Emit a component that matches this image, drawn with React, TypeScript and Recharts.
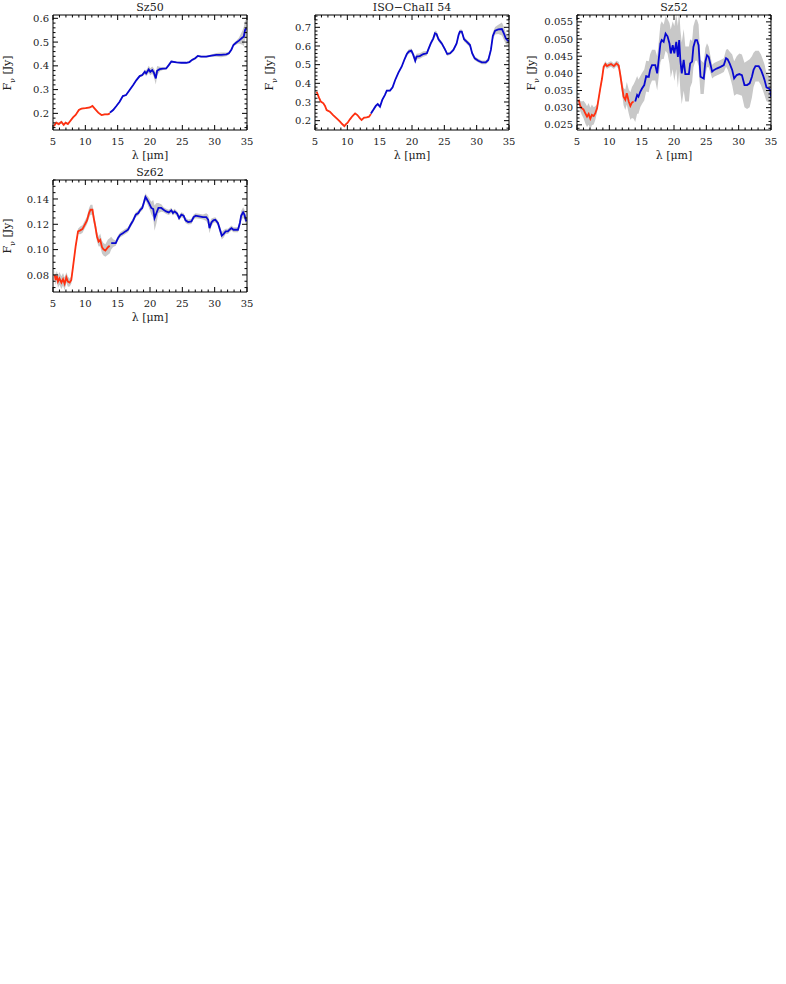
import { ComposedChart, Line, Area, XAxis, YAxis } from 'recharts'

// [wavelength (um), flux (Jy), half-width of grey band]
const SZ50_SL = [
  [5.15, 0.147, 0.006], [5.5, 0.161, 0.006], [5.9, 0.155, 0.006], [6.3, 0.164, 0.006],
  [6.65, 0.152, 0.006], [6.96, 0.161, 0.005], [7.3, 0.155, 0.004], [7.7, 0.169, 0.003],
  [8.1, 0.183, 0.003], [8.5, 0.193, 0.003], [9.0, 0.214, 0.003], [9.4, 0.22, 0.003],
  [10.05, 0.222, 0.003], [10.7, 0.225, 0.003], [11.1, 0.231, 0.003], [11.45, 0.22, 0.003],
  [12.0, 0.203, 0.003], [12.5, 0.193, 0.003], [13.0, 0.196, 0.003], [13.5, 0.196, 0.003],
  [13.8, 0.2, 0.004],
]
const SZ50_LL = [
  [13.8, 0.203, 0.005], [14.3, 0.214, 0.004], [14.8, 0.231, 0.003], [15.3, 0.249, 0.003],
  [15.8, 0.273, 0.003], [16.3, 0.277, 0.003], [16.85, 0.298, 0.003], [17.4, 0.319, 0.003],
  [17.9, 0.34, 0.004], [18.4, 0.357, 0.005], [18.8, 0.361, 0.006], [19.2, 0.375, 0.01],
  [19.4, 0.368, 0.012], [19.8, 0.385, 0.015], [20.05, 0.375, 0.015], [20.35, 0.382, 0.015],
  [20.6, 0.371, 0.018], [20.9, 0.347, 0.025], [21.1, 0.379, 0.02], [21.5, 0.386, 0.01],
  [22.0, 0.388, 0.006], [22.5, 0.389, 0.005], [22.9, 0.403, 0.005], [23.3, 0.418, 0.004],
  [24.1, 0.415, 0.003], [24.85, 0.413, 0.003], [25.6, 0.413, 0.003], [26.1, 0.416, 0.004],
  [26.5, 0.425, 0.005], [27.0, 0.432, 0.005], [27.4, 0.442, 0.005], [27.9, 0.439, 0.004],
  [28.7, 0.439, 0.004], [29.5, 0.443, 0.005], [30.25, 0.446, 0.008], [31.0, 0.446, 0.01],
  [31.8, 0.448, 0.008], [32.2, 0.453, 0.006], [32.6, 0.469, 0.006], [32.9, 0.488, 0.006],
  [33.35, 0.498, 0.008], [33.75, 0.506, 0.012], [34.3, 0.519, 0.03], [34.5, 0.523, 0.04],
  [34.7, 0.551, 0.04], [34.9, 0.558, 0.035],
]

const ISO54_SL = [
  [5.26, 0.355, 0.004], [5.6, 0.325, 0.004], [5.9, 0.302, 0.004], [6.3, 0.293, 0.004],
  [6.55, 0.279, 0.004], [6.8, 0.257, 0.004], [7.3, 0.248, 0.004], [7.8, 0.23, 0.004],
  [8.35, 0.212, 0.004], [8.87, 0.195, 0.004], [9.2, 0.182, 0.004], [9.55, 0.171, 0.004],
  [9.8, 0.182, 0.004], [10.05, 0.189, 0.004], [10.4, 0.207, 0.004], [10.8, 0.225, 0.004],
  [11.2, 0.239, 0.004], [11.55, 0.23, 0.004], [11.96, 0.212, 0.004], [12.2, 0.204, 0.004],
  [12.6, 0.216, 0.004], [13.0, 0.218, 0.004], [13.35, 0.221, 0.004], [13.65, 0.236, 0.006],
]
const ISO54_LL = [
  [13.65, 0.239, 0.01], [14.0, 0.257, 0.008], [14.4, 0.279, 0.006], [14.7, 0.289, 0.005],
  [15.05, 0.275, 0.005], [15.4, 0.311, 0.005], [15.8, 0.337, 0.005], [16.1, 0.361, 0.005],
  [16.6, 0.361, 0.005], [17.0, 0.379, 0.005], [17.4, 0.418, 0.005], [17.9, 0.457, 0.005],
  [18.4, 0.489, 0.006], [18.8, 0.525, 0.008], [19.2, 0.557, 0.01], [19.5, 0.57, 0.012],
  [19.9, 0.575, 0.012], [20.2, 0.552, 0.015], [20.5, 0.521, 0.015], [20.7, 0.543, 0.015],
  [21.2, 0.546, 0.015], [21.75, 0.557, 0.015], [22.3, 0.561, 0.012], [22.5, 0.579, 0.01],
  [22.9, 0.614, 0.01], [23.3, 0.641, 0.012], [23.55, 0.668, 0.015], [23.8, 0.664, 0.015],
  [24.1, 0.636, 0.012], [24.6, 0.614, 0.01], [25.1, 0.582, 0.01], [25.45, 0.557, 0.01],
  [25.9, 0.561, 0.008], [26.4, 0.579, 0.008], [26.9, 0.614, 0.01], [27.2, 0.659, 0.012],
  [27.4, 0.677, 0.012], [27.7, 0.677, 0.012], [28.05, 0.636, 0.012], [28.45, 0.623, 0.012],
  [28.97, 0.605, 0.012], [29.3, 0.561, 0.012], [29.7, 0.534, 0.01], [30.25, 0.521, 0.01],
  [30.8, 0.512, 0.01], [31.4, 0.512, 0.01], [31.8, 0.525, 0.012], [32.2, 0.579, 0.015],
  [32.5, 0.654, 0.02], [32.85, 0.682, 0.02], [33.35, 0.689, 0.025], [33.9, 0.691, 0.035],
  [34.2, 0.668, 0.035], [34.5, 0.641, 0.03], [34.8, 0.629, 0.025], [35.0, 0.625, 0.02],
]

const SZ52_SL = [
  [5.26, 0.0323, 0.001], [5.5, 0.0305, 0.0015], [5.77, 0.0298, 0.002], [6.0, 0.0295, 0.0025],
  [6.3, 0.0283, 0.003], [6.55, 0.0274, 0.003], [6.8, 0.0282, 0.0032], [7.06, 0.0268, 0.0032],
  [7.3, 0.0279, 0.003], [7.58, 0.0276, 0.0025], [7.83, 0.0284, 0.002], [8.1, 0.0298, 0.0012],
  [8.35, 0.0327, 0.0008], [8.6, 0.0356, 0.0008], [8.87, 0.0385, 0.0008], [9.12, 0.0419, 0.0008],
  [9.4, 0.0427, 0.0008], [9.64, 0.0421, 0.0008], [9.9, 0.0424, 0.0008], [10.26, 0.0427, 0.0008],
  [10.7, 0.0421, 0.0008], [11.1, 0.0429, 0.0008], [11.45, 0.0423, 0.001], [11.7, 0.0395, 0.0015],
  [11.96, 0.0361, 0.002], [12.2, 0.0332, 0.0025], [12.47, 0.0323, 0.003], [12.7, 0.0342, 0.0033],
  [13.0, 0.0318, 0.0035], [13.25, 0.0305, 0.004], [13.5, 0.0315, 0.0045], [13.76, 0.0318, 0.005],
]
const SZ52_LL = [
  [14.0, 0.0318, 0.006], [14.3, 0.0337, 0.0055], [14.5, 0.0332, 0.005], [14.8, 0.0347, 0.0045],
  [15.05, 0.0356, 0.0045], [15.4, 0.0366, 0.0045], [15.7, 0.0392, 0.0045], [16.1, 0.039, 0.0045],
  [16.3, 0.041, 0.0045], [16.6, 0.0424, 0.0045], [17.1, 0.0424, 0.0045], [17.4, 0.04, 0.005],
  [17.6, 0.0434, 0.005], [17.9, 0.0487, 0.0055], [18.1, 0.0497, 0.0055], [18.4, 0.0492, 0.005],
  [18.7, 0.0516, 0.005], [19.0, 0.0508, 0.005], [19.3, 0.0487, 0.006], [19.5, 0.0458, 0.007],
  [19.8, 0.0482, 0.007], [20.05, 0.0458, 0.008], [20.35, 0.0492, 0.008], [20.6, 0.0448, 0.009],
  [20.8, 0.0497, 0.009], [21.0, 0.0434, 0.009], [21.2, 0.04, 0.009], [21.5, 0.0439, 0.009],
  [21.75, 0.0398, 0.008], [22.3, 0.0398, 0.008], [22.5, 0.0429, 0.007], [22.8, 0.0434, 0.006],
  [23.0, 0.0477, 0.006], [23.3, 0.0497, 0.006], [23.55, 0.0497, 0.006], [23.8, 0.0482, 0.006],
  [24.1, 0.039, 0.005], [24.6, 0.0385, 0.0045], [24.85, 0.0434, 0.004], [25.1, 0.0453, 0.0035],
  [25.36, 0.0448, 0.003], [25.6, 0.0429, 0.0025], [25.9, 0.0405, 0.002], [26.2, 0.041, 0.002],
  [26.6, 0.0414, 0.002], [27.2, 0.0419, 0.002], [27.7, 0.0424, 0.002], [28.05, 0.0444, 0.0025],
  [28.3, 0.0441, 0.003], [28.6, 0.0429, 0.0035], [29.0, 0.041, 0.0045], [29.3, 0.0385, 0.005],
  [29.7, 0.0395, 0.0055], [30.1, 0.0398, 0.006], [30.5, 0.0395, 0.006], [30.9, 0.0366, 0.0065],
  [31.3, 0.0366, 0.007], [31.7, 0.0371, 0.007], [32.05, 0.039, 0.006], [32.3, 0.041, 0.005],
  [32.6, 0.0421, 0.0045], [33.1, 0.0421, 0.0045], [33.45, 0.041, 0.0045], [33.75, 0.0395, 0.0045],
  [34.0, 0.0381, 0.0045], [34.3, 0.0359, 0.004], [34.66, 0.0356, 0.004], [34.9, 0.0351, 0.0035],
  [35.0, 0.0332, 0.0035],
]

const SZ62_SL = [
  [5.26, 0.08, 0.004], [5.4, 0.076, 0.004], [5.6, 0.0792, 0.004], [5.77, 0.0747, 0.005],
  [6.0, 0.0773, 0.005], [6.3, 0.0739, 0.005], [6.55, 0.0766, 0.005], [6.8, 0.0729, 0.005],
  [7.06, 0.0781, 0.004], [7.3, 0.0747, 0.004], [7.58, 0.0739, 0.003], [7.83, 0.076, 0.003],
  [8.1, 0.0866, 0.002], [8.5, 0.1025, 0.002], [8.87, 0.1144, 0.002], [9.2, 0.1152, 0.003],
  [9.55, 0.1162, 0.003], [9.9, 0.1196, 0.003], [10.26, 0.1231, 0.003], [10.57, 0.1289, 0.004],
  [10.8, 0.1315, 0.004], [11.1, 0.1315, 0.004], [11.3, 0.1249, 0.004], [11.55, 0.1183, 0.004],
  [11.8, 0.1104, 0.004], [12.06, 0.1064, 0.004], [12.3, 0.1077, 0.005], [12.58, 0.1019, 0.005],
  [12.8, 0.1003, 0.005], [13.1, 0.0993, 0.005], [13.5, 0.1019, 0.006], [13.76, 0.103, 0.006],
]
const SZ62_LL = [
  [14.0, 0.1051, 0.005], [14.3, 0.1051, 0.003], [14.7, 0.1051, 0.002], [15.05, 0.1091, 0.002],
  [15.4, 0.1117, 0.002], [15.8, 0.113, 0.002], [16.2, 0.1144, 0.002], [16.6, 0.1157, 0.002],
  [17.0, 0.1196, 0.002], [17.4, 0.1231, 0.002], [17.8, 0.1276, 0.002], [18.2, 0.1289, 0.002],
  [18.5, 0.1315, 0.002], [18.8, 0.1329, 0.002], [19.1, 0.1381, 0.003], [19.3, 0.1416, 0.003],
  [19.5, 0.14, 0.003], [19.85, 0.1368, 0.004], [20.2, 0.1329, 0.005], [20.5, 0.1321, 0.007],
  [20.7, 0.1249, 0.01], [21.0, 0.1289, 0.008], [21.3, 0.1329, 0.004], [21.75, 0.1329, 0.003],
  [22.1, 0.1315, 0.002], [22.5, 0.1302, 0.002], [22.9, 0.1294, 0.002], [23.3, 0.131, 0.002],
  [23.55, 0.1289, 0.002], [23.8, 0.1302, 0.002], [24.2, 0.1284, 0.002], [24.5, 0.1249, 0.002],
  [24.85, 0.1276, 0.002], [25.2, 0.1268, 0.002], [25.5, 0.1231, 0.002], [25.9, 0.1218, 0.002],
  [26.4, 0.1223, 0.002], [26.75, 0.1257, 0.002], [27.06, 0.1268, 0.002], [27.6, 0.1263, 0.002],
  [28.2, 0.1257, 0.002], [28.7, 0.1257, 0.003], [29.0, 0.1236, 0.004], [29.2, 0.117, 0.004],
  [29.5, 0.1215, 0.003], [29.8, 0.1231, 0.002], [30.1, 0.1236, 0.002], [30.5, 0.121, 0.002],
  [30.9, 0.1144, 0.003], [31.1, 0.111, 0.003], [31.4, 0.1125, 0.003], [31.7, 0.1144, 0.002],
  [32.05, 0.1144, 0.002], [32.3, 0.1157, 0.002], [32.6, 0.117, 0.002], [32.9, 0.1157, 0.002],
  [33.35, 0.1157, 0.002], [33.6, 0.1157, 0.002], [33.9, 0.121, 0.003], [34.1, 0.1268, 0.004],
  [34.4, 0.1294, 0.004], [34.6, 0.1276, 0.004], [34.9, 0.1223, 0.003],
]

const X_MAJOR = [5, 10, 15, 20, 25, 30, 35]
const X_MINOR_STEP = 1

const SZ50_Y_MAJOR = [0.2, 0.3, 0.4, 0.5, 0.6]
const ISO54_Y_MAJOR = [0.2, 0.3, 0.4, 0.5, 0.6, 0.7]
const SZ52_Y_MAJOR = [0.025, 0.03, 0.035, 0.04, 0.045, 0.05, 0.055]
const SZ62_Y_MAJOR = [0.08, 0.1, 0.12, 0.14]

const RED = '#ff3010'
const BLUE = '#0808d0'
const GREY = '#c8c8c8'
const FONT = '"DejaVu Serif", serif'

const PANELS = [
  { title: 'Sz50', left: 0, top: 0, height: 165, sl: SZ50_SL, ll: SZ50_LL, domain: [0.13, 0.614], major: SZ50_Y_MAJOR, minorStep: 0.02, digits: 1 },
  { title: 'ISO\u2212ChaII 54', left: 262, top: 0, height: 165, sl: ISO54_SL, ll: ISO54_LL, domain: [0.15, 0.766], major: ISO54_Y_MAJOR, minorStep: 0.02, digits: 1 },
  { title: 'Sz52', left: 524, top: 0, height: 165, sl: SZ52_SL, ll: SZ52_LL, domain: [0.0235, 0.057], major: SZ52_Y_MAJOR, minorStep: 0.001, digits: 3 },
  { title: 'Sz62', left: 0, top: 165, height: 162, sl: SZ62_SL, ll: SZ62_LL, domain: [0.0665, 0.155], major: SZ62_Y_MAJOR, minorStep: 0.005, digits: 2 },
]

const PLOT_LEFT = 53
const PLOT_RIGHT = 15
const PLOT_TOP = 15
const PLOT_BOTTOM = 35
const WIDTH = 262

function minorTicks(lo: number, hi: number, step: number) {
  const out: number[] = []
  for (let i = Math.ceil(lo / step - 1e-6); i * step <= hi + 1e-9; i++) out.push(+(i * step).toFixed(6))
  return out
}

const isMajorOf = (major: number[]) => (v: number) => major.some((m) => Math.abs(m - v) < 1e-7)

function makeTick(side: string, isMajor: (v: number) => boolean, label?: (v: number) => string) {
  return (props: any) => {
    const { x, y, payload } = props
    const v = payload.value
    const major = isMajor(v)
    const len = major ? 5 : 2.5
    let x2 = x
    let y2 = y
    if (side === 'bottom') y2 = y - len
    if (side === 'top') y2 = y + len
    if (side === 'left') x2 = x + len
    if (side === 'right') x2 = x - len
    return (
      <g>
        <line x1={x} y1={y} x2={x2} y2={y2} stroke="#000" strokeWidth={1} />
        {major && label && side === 'bottom' && (
          <text x={x} y={y + 15} textAnchor="middle" fontSize={10} fontFamily={FONT} fill="#222">
            {label(v)}
          </text>
        )}
        {major && label && side === 'left' && (
          <text x={x - 4} y={y} dy="0.36em" textAnchor="end" fontSize={10} fontFamily={FONT} fill="#222">
            {label(v)}
          </text>
        )}
      </g>
    )
  }
}

function Panel({ p }: { p: (typeof PANELS)[number] }) {
  const xTicks = minorTicks(5, 35, X_MINOR_STEP)
  const yTicks = minorTicks(p.domain[0], p.domain[1], p.minorStep)
  const xMajor = isMajorOf(X_MAJOR)
  const yMajor = isMajorOf(p.major)
  const band = [...p.sl, ...p.ll].map((d) => ({ x: d[0], range: [d[1] - d[2], d[1] + d[2]] }))
  const red = p.sl.map((d) => ({ x: d[0], y: d[1] }))
  const blue = p.ll.map((d) => ({ x: d[0], y: d[1] }))
  const plotW = WIDTH - PLOT_LEFT - PLOT_RIGHT
  const plotH = p.height - PLOT_TOP - PLOT_BOTTOM
  const axisCommon = { type: 'number' as const, allowDataOverflow: true, tickSize: 0, tickMargin: 0, interval: 0 as const, stroke: '#000' }

  return (
    <div style={{ position: 'absolute', left: p.left, top: p.top, width: WIDTH, height: p.height }}>
      <ComposedChart width={WIDTH} height={p.height} margin={{ top: 0, right: 0, bottom: 0, left: 0 }}>
        <XAxis xAxisId="b" dataKey="x" domain={[5, 35]} ticks={xTicks} height={PLOT_BOTTOM}
          tick={makeTick('bottom', xMajor, (v) => String(v))} {...axisCommon} />
        <XAxis xAxisId="t" orientation="top" dataKey="x" domain={[5, 35]} ticks={xTicks} height={PLOT_TOP}
          tick={makeTick('top', xMajor)} {...axisCommon} />
        <YAxis yAxisId="l" domain={p.domain} ticks={yTicks} width={PLOT_LEFT}
          tick={makeTick('left', yMajor, (v) => v.toFixed(p.digits))} {...axisCommon} />
        <YAxis yAxisId="r" orientation="right" domain={p.domain} ticks={yTicks} width={PLOT_RIGHT}
          tick={makeTick('right', yMajor)} {...axisCommon} />
        <Area xAxisId="b" yAxisId="l" data={band} dataKey="range" type="linear" stroke="none"
          fill={GREY} fillOpacity={1} isAnimationActive={false} />
        <Line xAxisId="b" yAxisId="l" data={red} dataKey="y" type="linear" stroke={RED}
          strokeWidth={1.8} dot={false} isAnimationActive={false} />
        <Line xAxisId="b" yAxisId="l" data={blue} dataKey="y" type="linear" stroke={BLUE}
          strokeWidth={1.8} dot={false} isAnimationActive={false} />
      </ComposedChart>
      <div style={{ position: 'absolute', left: PLOT_LEFT, width: plotW, top: 1, textAlign: 'center',
        fontSize: 11, fontFamily: FONT, color: '#222', lineHeight: '13px' }}>
        {p.title}
      </div>
      <div style={{ position: 'absolute', left: PLOT_LEFT, width: plotW, top: PLOT_TOP + plotH + 19,
        textAlign: 'center', fontSize: 11, fontFamily: FONT, color: '#222', lineHeight: '13px' }}>
        λ [μm]
      </div>
      <div style={{ position: 'absolute', left: 10, top: PLOT_TOP + plotH / 2, fontSize: 11, fontFamily: FONT,
        color: '#222', whiteSpace: 'nowrap', transform: 'translate(-50%, -50%) rotate(-90deg)', lineHeight: '13px' }}>
        F<sub style={{ fontSize: 8 }}>ν</sub> [Jy]
      </div>
    </div>
  )
}

export default function App() {
  return (
    <div style={{ position: 'absolute', left: 0, top: 0, width: 786, height: 984, background: '#fff' }}>
      {PANELS.map((p) => (
        <Panel key={p.title} p={p} />
      ))}
    </div>
  )
}
